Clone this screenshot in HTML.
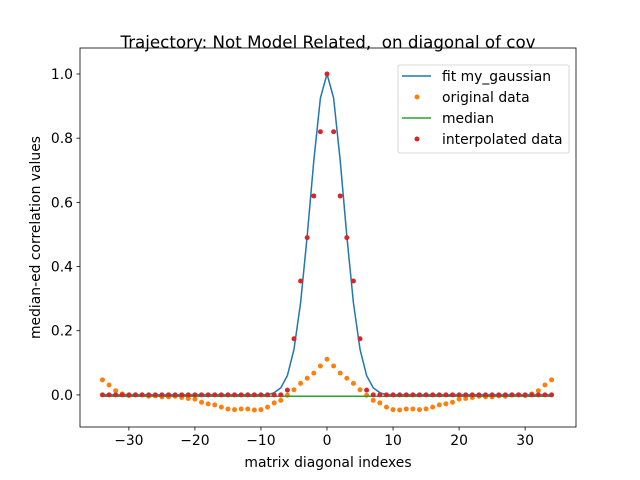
<!DOCTYPE html>
<html><head><meta charset="utf-8"><style>
body{margin:0;background:#fff}
svg{display:block;font-family:"DejaVu Sans","Liberation Sans",sans-serif}
</style></head><body>
<svg id="chart" width="640" height="480" viewBox="0 0 640 480">
<rect width="640" height="480" fill="#fff"/>
<text x="328" y="48" font-size="16.7" text-anchor="middle" style="white-space:pre">Trajectory: Not Model Related,  on diagonal of cov</text>
<g id="plot"></g>
<rect x="80" y="48" width="496" height="379" fill="none" stroke="#000" stroke-width="0.8"/>
<g id="xt"></g>
<g id="yt"></g>
<text x="328" y="467" font-size="13.9" text-anchor="middle">matrix diagonal indexes</text>
<text transform="translate(40,237.5) rotate(-90)" font-size="13.9" text-anchor="middle">median-ed correlation values</text>
<g>
<rect x="398" y="65" width="171" height="88" rx="2" fill="#fff" fill-opacity="0.8" stroke="#ccc" stroke-width="0.8"/>
<line x1="402" y1="76" x2="431" y2="76" stroke="#1f77b4" stroke-width="1.5"/>
<text x="442" y="81" font-size="13.9">fit my_gaussian</text>
<circle cx="417" cy="97" r="2.5" fill="#ff7f0e"/>
<text x="442" y="102" font-size="13.9">original data</text>
<line x1="402" y1="118" x2="431" y2="118" stroke="#2ca02c" stroke-width="1.5"/>
<text x="442" y="123" font-size="13.9">median</text>
<circle cx="417" cy="139" r="2.5" fill="#d62728"/>
<text x="442" y="144" font-size="13.9">interpolated data</text>
</g>
</svg>
<script>
const xTicks=[-30,-20,-10,0,10,20,30];
const yTicks=[0,0.2,0.4,0.6,0.8,1.0];
const yTickLabels=["0.0","0.2","0.4","0.6","0.8","1.0"];
// half profiles for offsets 0..34 (symmetric)
const fitHalf=[1.0,0.925,0.73,0.495,0.287,0.142,0.06,0.022,0.007,0,0,0,0,0,0,0,0,0,0,0,0,0,0,0,0,0,0,0,0,0,0,0,0,0,0];
const origHalf=[0.111,0.09,0.068,0.052,0.036,0.016,-0.001,-0.017,-0.025,-0.038,-0.046,-0.047,-0.044,-0.044,-0.046,-0.044,-0.038,-0.031,-0.028,-0.023,-0.013,-0.011,-0.008,-0.004,-0.006,-0.006,-0.003,-0.004,0,0,-0.002,0.003,0.013,0.031,0.047];
const interpHalf=[1.0,0.82,0.62,0.49,0.355,0.175,0.015,0,0,0,0,0,0,0,0,0,0,0,0,0,0,0,0,0,0,0,0,0,0,0,0,0,0,0,0];
const medianValue=-0.004;
const xMin=-37.4,xMax=37.7,yMin=-0.1,yMax=1.081;
const X=v=>80+(v-xMin)/(xMax-xMin)*496;
const Y=v=>427-(v-yMin)/(yMax-yMin)*379;
const NS="http://www.w3.org/2000/svg";
function mk(t,a,p){const e=document.createElementNS(NS,t);for(const k in a)e.setAttribute(k,a[k]);p.appendChild(e);return e;}
const plot=document.getElementById('plot');
const xs=[];for(let i=-34;i<=34;i++)xs.push(i);
const full=h=>xs.map(x=>h[Math.abs(x)]);
const fit=full(fitHalf),orig=full(origHalf),interp=full(interpHalf);
const fl=mk('polyline',{points:xs.map((x,i)=>X(x)+','+Y(fit[i])).join(' '),fill:'none',stroke:'#1f77b4','stroke-width':1.5},plot);


xs.forEach((x,i)=>{const c=mk('circle',{cx:X(x),cy:Y(orig[i]),r:2.5,fill:'#ff7f0e'},plot);

});
const ml=mk('line',{x1:X(-34),x2:X(34),y1:Y(medianValue),y2:Y(medianValue),stroke:'#2ca02c','stroke-width':1.5},plot);


xs.forEach((x,i)=>{const c=mk('circle',{cx:X(x),cy:Y(interp[i]),r:2.5,fill:'#d62728'},plot);

});
const xt=document.getElementById('xt');
xTicks.forEach(v=>{mk('line',{x1:X(v),x2:X(v),y1:427,y2:430.5,stroke:'#000','stroke-width':0.8},xt);
const t=mk('text',{x:X(v),y:445,'font-size':13.9,'text-anchor':'middle'},xt);t.textContent=(v<0?'\u2212'+(-v):v);

});
const yt=document.getElementById('yt');
yTicks.forEach((v,i)=>{mk('line',{x1:76.5,x2:80,y1:Y(v),y2:Y(v),stroke:'#000','stroke-width':0.8},yt);
const t=mk('text',{x:73,y:Y(v)+5,'font-size':13.9,'text-anchor':'end'},yt);t.textContent=yTickLabels[i];

});
</script>
</body></html>
